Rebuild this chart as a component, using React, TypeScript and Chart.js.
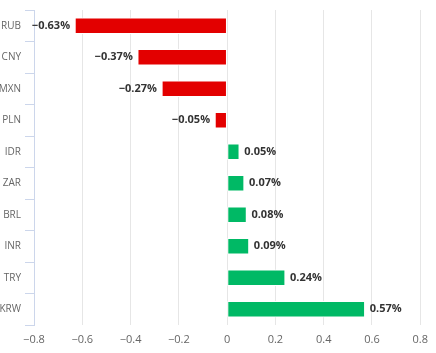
import React, { useEffect, useRef } from "react";
import { Chart, registerables } from "chart.js";

Chart.register(...registerables);

const categories = ["RUB", "CNY", "MXN", "PLN", "IDR", "ZAR", "BRL", "INR", "TRY", "KRW"];
const values = [-0.63, -0.37, -0.27, -0.05, 0.05, 0.07, 0.08, 0.09, 0.24, 0.57];
const xTicks = [-0.8, -0.6, -0.4, -0.2, 0, 0.2, 0.4, 0.6, 0.8];

const FONT = "'Open Sans', 'DejaVu Sans', sans-serif";

const labelPlugin = {
  id: "barLabels",
  afterDatasetsDraw(chart: any) {
    const ctx = chart.ctx;
    const meta = chart.getDatasetMeta(0);
    ctx.save();
    ctx.font = `bold 11px ${FONT}`;
    ctx.fillStyle = "#333333";
    ctx.textBaseline = "middle";
    meta.data.forEach((el: any, i: number) => {
      const v = values[i];
      const txt = (v < 0 ? "\u2212" : "") + Math.abs(v).toFixed(2) + "%";
      if (v < 0) {
        ctx.textAlign = "right";
        ctx.fillText(txt, el.x - 5, el.y);
      } else {
        ctx.textAlign = "left";
        ctx.fillText(txt, el.x + 5, el.y);
      }
    });
    ctx.restore();
  },
};

export default function App() {
  const ref = useRef<HTMLCanvasElement>(null);
  useEffect(() => {
    if (!ref.current) return;
    const chart = new Chart(ref.current, {
      type: "bar",
      data: {
        labels: categories,
        datasets: [
          {
            data: values,
            backgroundColor: values.map((v) => (v < 0 ? "#e30000" : "#00b965")),
            borderColor: "#ffffff",
            borderWidth: 1,
            borderSkipped: false,
            barThickness: 16,
          },
        ],
      },
      options: {
        indexAxis: "y",
        animation: false,
        responsive: false,
        maintainAspectRatio: false,
        layout: { padding: { left: 0, right: 14, top: 6, bottom: 0 } },
        plugins: { legend: { display: false }, tooltip: { enabled: false } },
        scales: {
          x: {
            min: -0.8,
            max: 0.8,
            afterBuildTicks: (s: any) => {
              s.ticks = xTicks.map((v) => ({ value: v }));
            },
            afterFit: (s: any) => {
              s.height = 28;
            },
            grid: { color: "#e6e6e6", drawTicks: false },
            border: { display: false },
            ticks: {
              padding: 8,
              color: "#666666",
              font: { family: FONT, size: 11 },
              callback: (v: any) => {
                const n = Number(v);
                if (n === 0) return "0";
                return (n < 0 ? "\u2212" : "") + Math.abs(n).toFixed(1);
              },
            },
          },
          y: {
            afterFit: (s: any) => {
              s.width = 34;
            },
            grid: {
              offset: true,
              drawOnChartArea: false,
              drawTicks: true,
              tickLength: 9,
              color: "#ccd6eb",
              lineWidth: 1,
            },
            border: { display: true, color: "#ccd6eb" },
            ticks: {
              padding: 4,
              color: "#666666",
              font: { family: FONT, size: 10 },
            },
          },
        },
      },
      plugins: [labelPlugin],
    });
    return () => chart.destroy();
  }, []);
  return (
    <div style={{ position: "fixed", left: 0, top: 0, width: 436, height: 353, background: "#fff" }}>
      <canvas ref={ref} width={436} height={353} style={{ width: 436, height: 353 }} />
    </div>
  );
}
